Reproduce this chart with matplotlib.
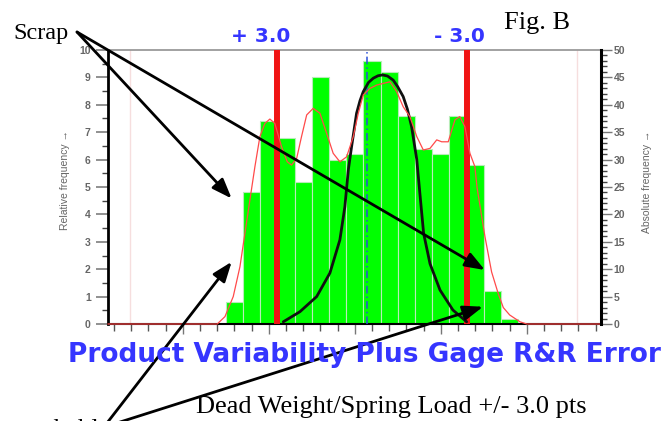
import matplotlib
matplotlib.use('Agg')
import matplotlib.pyplot as plt
from matplotlib.ticker import MultipleLocator, FixedLocator, NullFormatter

# ---------------- data ----------------
bin_index = list(range(17))
abs_counts = [4, 24, 37, 34, 26, 45, 30, 31, 48, 46, 38, 32, 31, 38, 29, 6, 1]
lower_limit = 2.5
upper_limit = 13.5
center_value = 7.7
faint_limits = [-6.1, 19.9]

# smoothed (kernel) curve, relative frequency %
kde_x = [-7.35, -1.0, -0.55, -0.07, 0.32, 0.61, 0.9, 1.19, 1.48, 1.77, 2.06, 2.35, 2.74, 3.07,
         3.32, 3.62, 3.9, 4.2, 4.58, 4.97, 5.36, 5.74, 6.13, 6.52, 6.91, 7.2, 7.49, 7.88, 8.27,
         8.65, 9.04, 9.43, 9.81, 10.2, 10.6, 10.98, 11.37, 11.76, 12.05, 12.43, 12.82, 13.1,
         13.4, 13.69, 13.98, 14.1, 14.56, 14.95, 15.34, 15.63, 16.0, 16.6, 17.0, 21.31]
kde_y = [0.0, 0.0, 0.27, 1.0, 2.09, 3.31, 4.53, 5.74, 6.84, 7.32, 7.48, 7.32, 6.47, 5.92,
         5.8, 6.05, 6.84, 7.63, 7.87, 7.69, 6.96, 6.23, 5.92, 6.1, 6.84, 7.69, 8.36, 8.6, 8.72,
         8.78, 8.84, 8.48, 7.93, 7.57, 6.84, 6.35, 6.41, 6.72, 6.65, 6.65, 7.45, 7.57,
         7.2, 6.23, 5.74, 5.0, 3.2, 1.9, 1.1, 0.6, 0.33, 0.08, 0.0, 0.0]

# normal curve
norm_x = [2.84, 3.81, 4.78, 5.55, 6.13, 6.42, 6.62, 6.81, 7.1, 7.3, 7.49, 7.8, 8.07, 8.35,
          8.61, 8.9, 9.23, 9.5, 9.81, 10.05, 10.3, 10.6, 10.78, 11.0, 11.37, 11.95, 12.7, 13.5]
norm_y = [0.08, 0.45, 1.0, 1.86, 3.07, 4.28, 5.62, 6.47, 7.69, 8.15, 8.48, 8.82, 8.97, 9.06,
          9.09, 9.05, 8.9, 8.65, 8.3, 7.85, 7.2, 6.0, 4.77, 3.3, 2.2, 1.24, 0.51, 0.08]

total = sum(abs_counts)
rel_freq = [c * 100.0 / total for c in abs_counts]

# ---------------- figure ----------------
W, H = 671, 421
fig = plt.figure(figsize=(W / 100, H / 100), dpi=100)
fig.patch.set_facecolor('white')

def fx(px):
    return px / W

def fy(py):
    return 1 - py / H

ax = fig.add_axes([fx(108), fy(324), (601 - 108) / W, (324 - 50) / H])
ax.set_xlim(-7.35, 21.31)
ax.set_ylim(0, 10)

ax.bar(bin_index, rel_freq, width=1.0, color='#00ff00', edgecolor='#b8ecb8', linewidth=0.8, zorder=2)

for fl in faint_limits:
    ax.axvline(fl, color='#f6dede', lw=1.0, zorder=1)

ax.axvline(lower_limit, color='#f01414', lw=4.3, zorder=3)
ax.axvline(upper_limit, color='#f01414', lw=4.3, zorder=3)
ax.axvline(center_value, color='#2a50d8', lw=1.1, ls=(0, (5, 2, 1, 2)), zorder=4)

ax.plot(norm_x, norm_y, color='#111111', lw=2.0, zorder=5, solid_capstyle='round',
        solid_joinstyle='round')
ax.plot(kde_x, kde_y, color='#ff4a4a', lw=0.9, zorder=6, clip_on=False)

# spines
for s in ['left', 'bottom']:
    ax.spines[s].set_color('black')
ax.spines['left'].set_linewidth(2.0)
ax.spines['bottom'].set_linewidth(1.5)
ax.spines['top'].set_color('#9a9a9a')
ax.spines['top'].set_linewidth(1.3)
ax.spines['right'].set_visible(False)

# x ticks
ax.xaxis.set_major_locator(FixedLocator([-3, 2, 7, 12, 17]))
ax.xaxis.set_minor_locator(MultipleLocator(1))
ax.xaxis.set_major_formatter(NullFormatter())
ax.tick_params(axis='x', which='major', length=7, width=1.0, color='#777777', direction='out')
ax.tick_params(axis='x', which='minor', length=5, width=1.0, color='#555555', direction='out')

# left y ticks
ax.yaxis.set_major_locator(MultipleLocator(1))
ax.yaxis.set_minor_locator(MultipleLocator(0.5))
ax.tick_params(axis='y', which='major', length=8.5, width=1.3, color='#888888',
               labelsize=7.5, labelcolor='#666666', pad=4)
ax.tick_params(axis='y', which='minor', length=4.5, width=1.0, color='#444444')
for lab in ax.get_yticklabels():
    lab.set_fontfamily('Liberation Sans')
    lab.set_fontweight('bold')

# right axis
ax2 = ax.twinx()
ax2.set_ylim(0, 50)
for s in ['left', 'top', 'bottom']:
    ax2.spines[s].set_visible(False)
ax2.spines['right'].set_color('black')
ax2.spines['right'].set_linewidth(2.2)
ax2.yaxis.set_major_locator(MultipleLocator(5))
ax2.yaxis.set_minor_locator(MultipleLocator(1))
ax2.tick_params(axis='y', which='major', length=8, width=1.0, color='#777777',
                labelsize=7.5, labelcolor='#666666', pad=1)
ax2.tick_params(axis='y', which='minor', length=4.5, width=1.0, color='#444444')
for lab in ax2.get_yticklabels():
    lab.set_fontfamily('Liberation Sans')
    lab.set_fontweight('bold')

# axis titles
fig.text(fx(65), fy(180), 'Relative frequency \u2192', rotation=90, ha='center', va='center',
         fontsize=7.5, color='#666666', family='Liberation Sans')
fig.text(fx(647), fy(182), 'Absolute frequency \u2192', rotation=90, ha='center', va='center',
         fontsize=7.5, color='#666666', family='Liberation Sans')

blue = '#3535ff'
fig.text(fx(261), fy(36), '+ 3.0', ha='center', va='center', fontsize=14.5,
         fontweight='bold', color=blue, family='DejaVu Sans')
fig.text(fx(459), fy(36), '- 3.0', ha='center', va='center', fontsize=14.5,
         fontweight='bold', color=blue, family='DejaVu Sans')
fig.text(fx(364.5), fy(355), 'Product Variability Plus Gage R&R Error', ha='center', va='center',
         fontsize=19.0, fontweight='bold', color=blue, family='DejaVu Sans')

serif = 'Liberation Serif'
fig.text(fx(13), fy(39), 'Scrap', ha='left', va='baseline', fontsize=17.5, family=serif, color='black')
fig.text(fx(537), fy(29), 'Fig. B', ha='center', va='baseline', fontsize=19, family=serif, color='black')
fig.text(fx(391), fy(413), 'Dead Weight/Spring Load +/- 3.0 pts', ha='center', va='baseline',
         fontsize=19, family=serif, color='black')
# label cut off at the lower-left edge of the picture (as in the reference)
fig.text(fx(-17), fy(436), 'Reworkable', ha='left', va='baseline', fontsize=19, family=serif,
         color='black')

# arrows
arrow_kw = dict(arrowstyle='-|>,head_length=1.2,head_width=0.45', color='black', lw=2.0,
                shrinkA=0, shrinkB=0)
scrap_origin = (fx(77), fy(32))
for tgt in [(-0.16, 4.58), (14.56, 1.97)]:
    ax.annotate('', xy=tgt, xycoords='data', xytext=scrap_origin, textcoords='figure fraction',
                arrowprops=arrow_kw, annotation_clip=False, zorder=10)
ax.annotate('', xy=(-0.16, 2.27), xycoords='data', xytext=(fx(107), fy(423)),
            textcoords='figure fraction', arrowprops=arrow_kw, annotation_clip=False, zorder=10)
ax.annotate('', xy=(14.45, 0.63), xycoords='data', xytext=(fx(117), fy(423)),
            textcoords='figure fraction', arrowprops=arrow_kw, annotation_clip=False, zorder=10)

fig.savefig('out.png', dpi=100)
